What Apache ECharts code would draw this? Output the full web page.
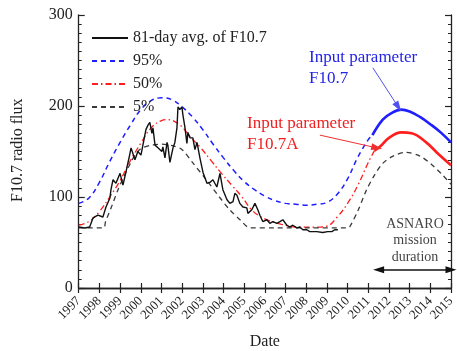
<!DOCTYPE html>
<html><head><meta charset="utf-8">
<script src="https://cdn.jsdelivr.net/npm/echarts@6/dist/echarts.min.js"></script>
<style>html,body{margin:0;padding:0;background:#fff}#c{width:457px;height:351px}</style>
</head><body><div id="c"></div>
<script>
// ---- data ----
const years = [1997,1998,1999,2000,2001,2002,2003,2004,2005,2006,2007,2008,2009,2010,2011,2012,2013,2014,2015];
const yTicks = [0,100,200,300];
const avg81 = [
[1997.0,67],[1997.3,66],[1997.53,67],[1997.69,77],[1997.93,80],[1998.17,78],[1998.32,89],[1998.51,99],
[1998.56,108],[1998.66,119],[1998.80,115],[1999.00,126],[1999.14,113],[1999.28,127],[1999.48,148],
[1999.53,154],[1999.72,141],[1999.86,150],[2000.01,146],[2000.25,174],[2000.35,179],[2000.44,182],
[2000.54,170],[2000.59,176],[2000.69,157],[2000.83,154],[2001.02,150],[2001.07,155],[2001.17,143],
[2001.27,160],[2001.31,157],[2001.41,138],[2001.56,154],[2001.65,160],[2001.75,176],[2001.80,199],
[2001.89,196],[2001.99,199],[2002.04,190],[2002.14,176],[2002.23,159],[2002.28,171],[2002.38,165],
[2002.52,165],[2002.62,152],[2002.72,160],[2002.86,143],[2003.01,127],[2003.20,115],[2003.34,116],
[2003.49,119],[2003.68,111],[2003.83,126],[2003.92,124],[2003.97,108],[2004.17,97],[2004.22,99],
[2004.31,93],[2004.46,95],[2004.55,104],[2004.65,102],[2004.79,93],[2004.94,89],[2005.13,88],
[2005.18,82],[2005.37,86],[2005.42,88],[2005.52,93],[2005.61,95],[2005.66,86],[2005.76,80],
[2005.90,73],[2006.10,75],[2006.24,71],[2006.39,73],[2006.58,71],[2006.73,73],[2006.87,75],
[2007.06,69],[2007.21,67],[2007.35,69],[2007.55,66],[2007.69,67],[2007.84,64],[2008.03,64],
[2008.17,62],[2008.51,62],[2008.80,61],[2009.04,62],[2009.24,62],[2009.38,64],[2009.53,64]
];
const p95past = [
[1997.0,93],[1997.5,99],[1998.0,116],[1998.5,139],[1999.0,160],[1999.5,179],[2000.0,196],[2000.5,206],
[2001.0,209],[2001.5,207],[2002.0,199],[2002.5,188],[2003.0,174],[2003.5,158],[2004.0,143],[2004.5,129],
[2005.0,117],[2005.5,108],[2006.0,101],[2006.5,96],[2007.0,93],[2007.5,92],[2008.0,91],[2008.5,92],
[2009.0,94],[2009.5,103],[2010.0,120],[2010.5,144],[2011.0,163],[2011.2,168]
];
const p95fut = [
[2011.2,168],[2011.7,185],[2012.1,192],[2012.6,196],[2013.0,194],[2013.5,188],[2014.0,180],[2014.5,171],[2015.0,160]
];
const p50past = [
[1997.0,69],[1997.5,73],[1998.0,84],[1998.5,100],[1999.0,118],[1999.5,140],[2000.0,159],[2000.5,176],
[2001.0,184],[2001.3,185],[2001.9,179],[2002.4,166],[2002.9,154],[2003.4,140],[2003.9,126],[2004.4,113],
[2004.9,100],[2005.4,85],[2006.0,76],[2006.8,70],[2007.6,67],[2008.5,67],[2009.0,68],[2009.5,78],
[2010.0,93],[2010.5,113],[2011.0,138],[2011.3,151]
];
const p50fut = [
[2011.3,151],[2011.6,156],[2012.0,165],[2012.6,171],[2013.1,170],[2013.8,160],[2014.4,147],[2015.0,135]
];
const p05 = [
[1997.0,66],[1998.2,66],[1998.3,73],[1998.6,90],[1998.9,108],[1999.2,123],[1999.5,137],[1999.75,147],
[2000.0,153],[2000.5,157],[2001.0,158],[2001.6,156],[2002.0,152],[2002.5,138],[2003.2,118],[2003.8,100],
[2004.3,86],[2004.8,75],[2005.3,66],[2006.5,66],[2008.0,66],[2010.0,66],[2010.1,67],[2010.5,85],
[2010.9,107],[2011.3,124],[2011.7,137],[2012.2,145],[2012.8,149],[2013.5,145],[2014.1,135],[2014.6,124],[2015.0,114]
];
const legendNames = ['81-day avg. of F10.7','95%','50%','5%'];

// ---- chart ----
const BLUE='#1e1eff', RED='#ff1e1e', GRAY='#3a3a3a';
const FONT='"Liberation Serif","Times New Roman",serif';
const chart = echarts.init(document.getElementById('c'));
const axisCommon = {
  min:1997, max:2015, interval:1, type:'value',
  axisLine:{show:true,lineStyle:{color:'#222',width:1.3}},
  axisTick:{show:true,inside:true,length:5,lineStyle:{color:'#222',width:1.2}},
  splitLine:{show:false}
};
const yCommon = {
  type:'value', min:0, max:300, interval:100,
  axisLine:{show:true,lineStyle:{color:'#222',width:1.3}},
  axisTick:{show:true,inside:true,length:6,lineStyle:{color:'#222',width:1.2}},
  minorTick:{show:true,splitNumber:10,length:3,lineStyle:{color:'#222',width:1}},
  splitLine:{show:false}
};
chart.setOption({
  animation:false,
  grid:{left:78.7,right:6,top:15,bottom:63,containLabel:false,outerBoundsMode:'none'},
  textStyle:{fontFamily:FONT},
  xAxis:[
    Object.assign({},axisCommon,{position:'bottom',
      axisLabel:{rotate:45,fontSize:13,color:'#222',margin:11,fontFamily:FONT,formatter:v=>String(v)},
      name:'Date',nameLocation:'middle',nameGap:46,nameTextStyle:{fontSize:16,color:'#222',fontFamily:FONT}}),
    Object.assign({},axisCommon,{position:'top',axisLabel:{show:false}})
  ],
  yAxis:[
    Object.assign({},yCommon,{position:'left',
      axisLabel:{fontSize:16,color:'#222',margin:6,fontFamily:FONT}}),
    Object.assign({},yCommon,{position:'right',axisLabel:{show:false}})
  ],
  legend:{
    data:legendNames, orient:'vertical', left:86, top:25, itemWidth:36, itemHeight:14, itemGap:7,
    itemStyle:{opacity:0},
    textStyle:{fontSize:16,color:'#222',fontFamily:FONT}, selectedMode:false
  },
  graphic:[
    {type:'text',x:10,y:202,rotation:Math.PI/2,
      style:{text:'F10.7 radio flux',fontSize:16,fill:'#222',fontFamily:FONT}},
    {type:'text',x:309,y:47,style:{text:'Input parameter\nF10.7',fontSize:17,lineHeight:21,fill:'#2424e8',fontFamily:FONT}},
    {type:'text',x:247,y:113,style:{text:'Input parameter\nF10.7A',fontSize:17,lineHeight:21,fill:'#f02020',fontFamily:FONT}},
    {type:'text',x:415,y:216,style:{text:'ASNARO\nmission\nduration',fontSize:14,lineHeight:16.5,fill:'#444',align:'center',fontFamily:FONT}}
  ],
  series:[
    {name:'95%',type:'line',data:p95past,smooth:0.4,showSymbol:false,symbol:'none',
      lineStyle:{color:BLUE,width:1.5,type:[5,4]},itemStyle:{color:BLUE},z:2},
    {name:'95% input',type:'line',data:p95fut,smooth:0.4,showSymbol:false,symbol:'none',
      lineStyle:{color:BLUE,width:2.6},itemStyle:{color:BLUE},z:2},
    {name:'50%',type:'line',data:p50past,smooth:0.4,showSymbol:false,symbol:'none',
      lineStyle:{color:RED,width:1.3,type:[6,3,1.5,3]},itemStyle:{color:RED},z:2},
    {name:'50% input',type:'line',data:p50fut,smooth:0.4,showSymbol:false,symbol:'none',
      lineStyle:{color:RED,width:2.6},itemStyle:{color:RED},z:2},
    {name:'5%',type:'line',data:p05,smooth:0.3,showSymbol:false,symbol:'none',
      lineStyle:{color:GRAY,width:1.3,type:[5,4]},itemStyle:{color:GRAY},z:2},
    {name:'81-day avg. of F10.7',type:'line',data:avg81,showSymbol:false,symbol:'none',
      lineStyle:{color:'#111',width:1.4},itemStyle:{color:'#111'},z:3},
    {name:'annot',type:'line',data:[],silent:true,
      markLine:{silent:true,animation:false,label:{show:false},lineStyle:{type:'solid'},
        data:[
          [{coord:[2011.22,242],symbol:'none',lineStyle:{color:'#5050f0',width:1,type:'solid'}},
           {coord:[2012.45,199],symbol:'triangle',symbolSize:[7,11],itemStyle:{color:'#2020ff'}}],
          [{coord:[2008.66,168],symbol:'none',lineStyle:{color:'#f03030',width:1,type:'solid'}},
           {coord:[2011.41,154],symbol:'triangle',symbolSize:[7,11],itemStyle:{color:'#ff2020'}}],
          [{coord:[2011.5,20],symbol:'triangle',symbolSize:[7,11],lineStyle:{color:'#111',width:1.5,type:'solid'},itemStyle:{color:'#111'}},
           {coord:[2015,20],symbol:'triangle',symbolSize:[7,11],itemStyle:{color:'#111'}}]
        ]}}
  ]
});
</script></body></html>
